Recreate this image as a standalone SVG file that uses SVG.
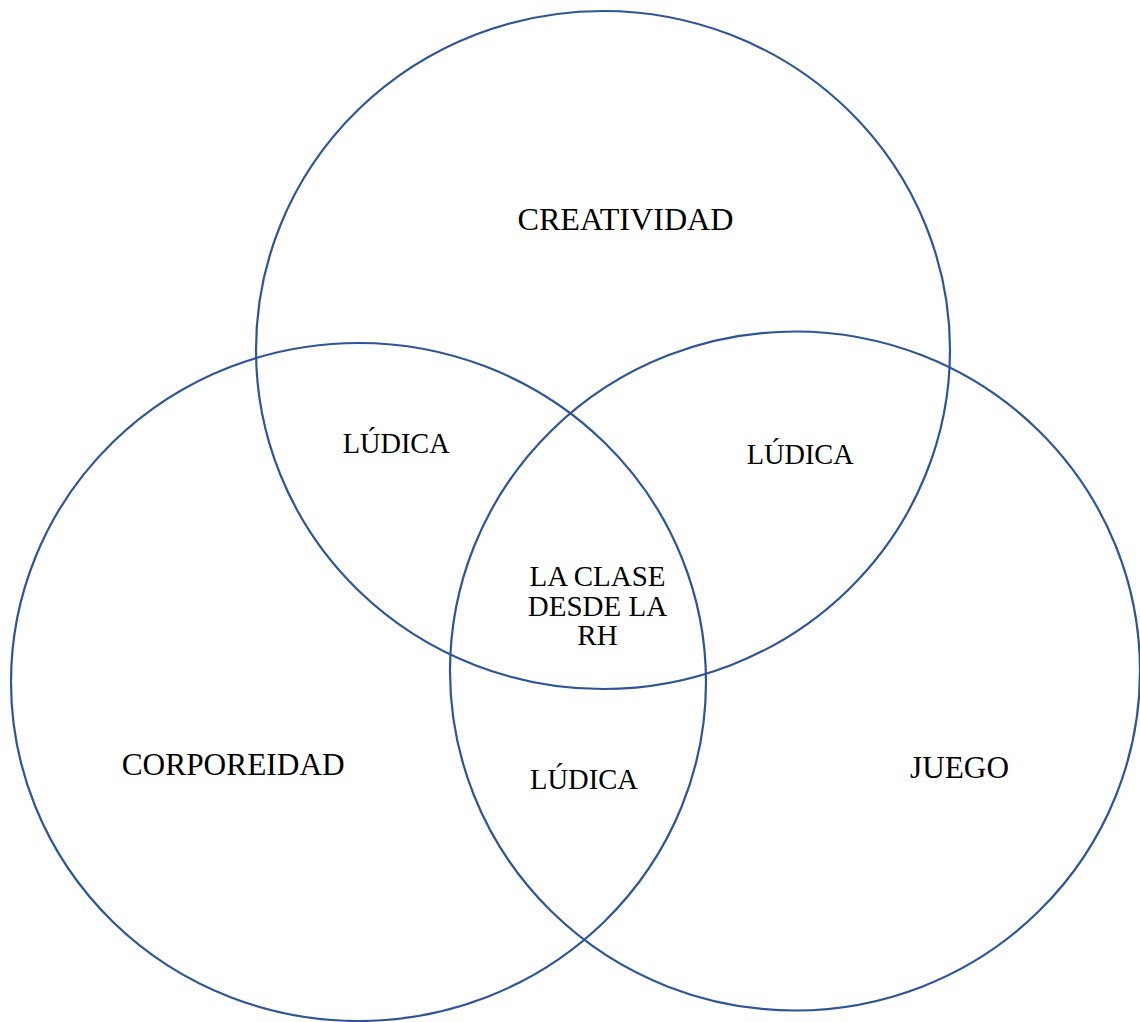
<svg xmlns="http://www.w3.org/2000/svg" width="1140" height="1022" viewBox="0 0 1140 1022">
<style>
.c{fill:none;stroke:#2F5597;stroke-width:2.2}
.t{font-family:"Liberation Serif","Times New Roman",serif;fill:#000}
.big{font-size:31.5px}
.lud{font-size:28.5px}
.mid{font-size:29px;text-anchor:middle}
</style>
<rect width="1140" height="1022" fill="#fff"/>
<g id="circle-creatividad">
<ellipse class="c" cx="603" cy="350" rx="347" ry="339"/>
<text class="t big" x="517.5" y="229.5" textLength="216" lengthAdjust="spacingAndGlyphs">CREATIVIDAD</text>
</g>
<g id="circle-corporeidad">
<ellipse class="c" cx="358.5" cy="682" rx="347.5" ry="339"/>
<text class="t big" x="121.7" y="775.3" textLength="223" lengthAdjust="spacingAndGlyphs">CORPOREIDAD</text>
</g>
<g id="circle-juego">
<ellipse class="c" cx="795" cy="671" rx="345" ry="339.5"/>
<text class="t big" x="910" y="778" textLength="99" lengthAdjust="spacingAndGlyphs">JUEGO</text>
</g>
<g id="ludica-1"><text class="t lud" x="342.7" y="453.3" textLength="107" lengthAdjust="spacingAndGlyphs">LÚDICA</text></g>
<g id="ludica-2"><text class="t lud" x="746.7" y="464.3" textLength="107" lengthAdjust="spacingAndGlyphs">LÚDICA</text></g>
<g id="ludica-3"><text class="t lud" x="530" y="789.3" textLength="108" lengthAdjust="spacingAndGlyphs">LÚDICA</text></g>
<g id="centro">
<text class="t mid" x="597.5" y="585.7">LA CLASE</text>
<text class="t mid" x="597.5" y="615.5">DESDE LA</text>
<text class="t mid" x="597.5" y="645.3">RH</text>
</g>
<g id="connectors"/>
</svg>
